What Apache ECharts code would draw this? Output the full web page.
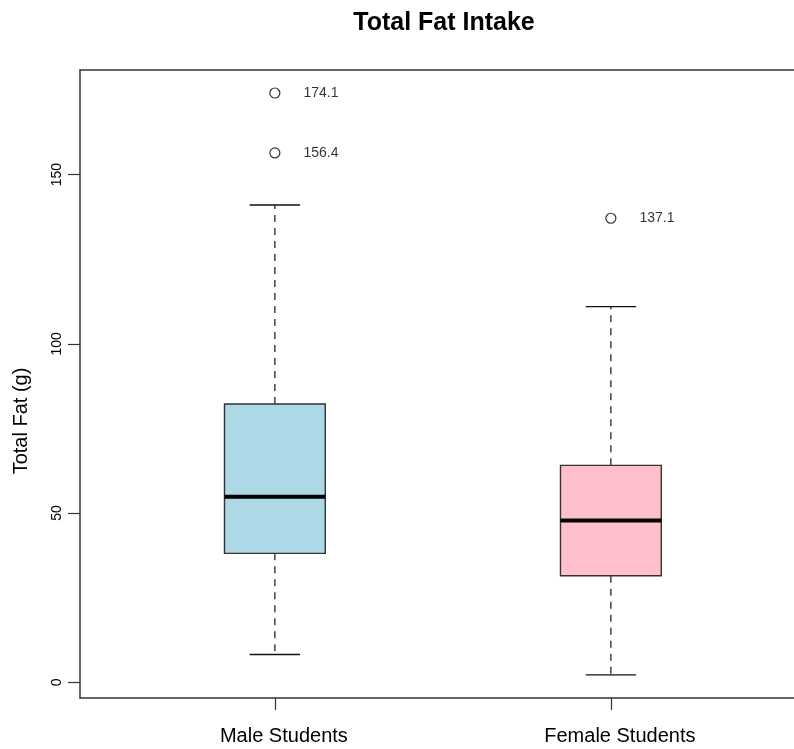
<!DOCTYPE html>
<html>
<head>
<meta charset="utf-8">
<script src="https://cdn.jsdelivr.net/npm/echarts@6/dist/echarts.min.js"></script>
<style>html,body{margin:0;padding:0;background:#fff;}#c{width:794px;height:749px;}</style>
</head>
<body>
<div id="c"></div>
<script>
const categories = ['Male Students', 'Female Students'];
const whiskerLow = [8.2, 2.2];
const q1 = [38.1, 31.5];
const median = [54.8, 47.8];
const q3 = [82.2, 64.1];
const whiskerHigh = [141.0, 111.0];
const boxColors = ['#ADD8E6', '#FFC0CB'];
const outlierGroup = [0, 0, 1];
const outlierValues = [174.1, 156.4, 137.1];
const yTicks = [0, 50, 100, 150];

const boxData = categories.map((c, i) => [i + 1, whiskerLow[i], q1[i], median[i], q3[i], whiskerHigh[i]]);
const outlierData = outlierValues.map((v, i) => [outlierGroup[i] + 1, v]);

const frameLine = {show: true, onZero: false, lineStyle: {color: '#333', width: 1.5}};
const xMin = 0.42, xMax = 2.545;

const chart = echarts.init(document.getElementById('c'), null, {renderer: 'canvas'});
chart.setOption({
  backgroundColor: '#fff',
  animation: false,
  title: {
    text: 'Total Fat Intake',
    left: 439, top: 6, textAlign: 'center',
    textStyle: {fontFamily: 'Liberation Sans', fontWeight: 'bold', fontSize: 25, color: '#000'}
  },
  grid: {left: 80, top: 70, right: 0, bottom: 51, show: false},
  xAxis: [{
    type: 'value', min: xMin, max: xMax, position: 'bottom',
    splitLine: {show: false}, axisLine: frameLine,
    axisTick: {show: true, customValues: [1, 2], length: 12, inside: false, lineStyle: {color: '#333', width: 1.2}},
    axisLabel: {customValues: [1, 2], margin: 28, fontSize: 20, fontFamily: 'Liberation Sans', color: '#000',
      padding: [0, 0, 0, 18],
      formatter: v => categories[Math.round(v) - 1] || ''}
  }, {
    type: 'value', min: xMin, max: xMax, position: 'top',
    splitLine: {show: false}, axisLine: frameLine,
    axisTick: {show: false}, axisLabel: {show: false}
  }],
  yAxis: {
    type: 'value', min: -4.64, max: 180.9,
    name: 'Total Fat (g)', nameLocation: 'middle', nameRotate: 90, nameGap: 49,
    nameTextStyle: {fontFamily: 'Liberation Sans', fontSize: 20, color: '#000', padding: [0, 74, 0, 0]},
    splitLine: {show: false}, axisLine: frameLine,
    axisTick: {show: true, customValues: yTicks, length: 12, lineStyle: {color: '#333', width: 1.2}},
    axisLabel: {customValues: yTicks, rotate: 90, margin: 16, fontSize: 14, fontFamily: 'Liberation Sans', color: '#000'}
  },
  series: [
    {
      type: 'custom',
      data: boxData,
      encode: {x: 0, y: [1, 2, 3, 4, 5]},
      renderItem: function (params, api) {
        const x = api.value(0);
        const lo = api.value(1), a = api.value(2), m = api.value(3), b = api.value(4), hi = api.value(5);
        const hw = 0.15, cw = 0.075;
        const pLo = api.coord([x, lo]), pA = api.coord([x, a]), pM = api.coord([x, m]), pB = api.coord([x, b]), pHi = api.coord([x, hi]);
        const xl = api.coord([x - hw, m])[0], xr = api.coord([x + hw, m])[0];
        const cl = api.coord([x - cw, m])[0], cr = api.coord([x + cw, m])[0];
        const cx = pM[0];
        const dash = {stroke: '#111', lineWidth: 1.2, lineDash: [7, 6]};
        const solid = {stroke: '#111', lineWidth: 1.4};
        return {
          type: 'group',
          children: [
            {type: 'line', shape: {x1: cx, y1: pB[1], x2: cx, y2: pHi[1]}, style: dash},
            {type: 'line', shape: {x1: cx, y1: pA[1], x2: cx, y2: pLo[1]}, style: dash},
            {type: 'line', shape: {x1: cl, y1: pHi[1], x2: cr, y2: pHi[1]}, style: solid},
            {type: 'line', shape: {x1: cl, y1: pLo[1], x2: cr, y2: pLo[1]}, style: solid},
            {type: 'rect', shape: {x: xl, y: pB[1], width: xr - xl, height: pA[1] - pB[1]},
              style: {fill: boxColors[params.dataIndex], stroke: '#333', lineWidth: 1.4}},
            {type: 'line', shape: {x1: xl, y1: pM[1], x2: xr, y2: pM[1]}, style: {stroke: '#000', lineWidth: 4}}
          ]
        };
      }
    },
    {
      type: 'scatter',
      data: outlierData,
      symbol: 'circle', symbolSize: 10,
      itemStyle: {color: '#fff', borderColor: '#000', borderWidth: 1.2},
      label: {show: true, position: 'right', distance: 23, fontSize: 14, fontFamily: 'Liberation Sans', color: '#000',
        formatter: p => p.value[1].toFixed(1)}
    }
  ]
});
</script>
</body>
</html>
